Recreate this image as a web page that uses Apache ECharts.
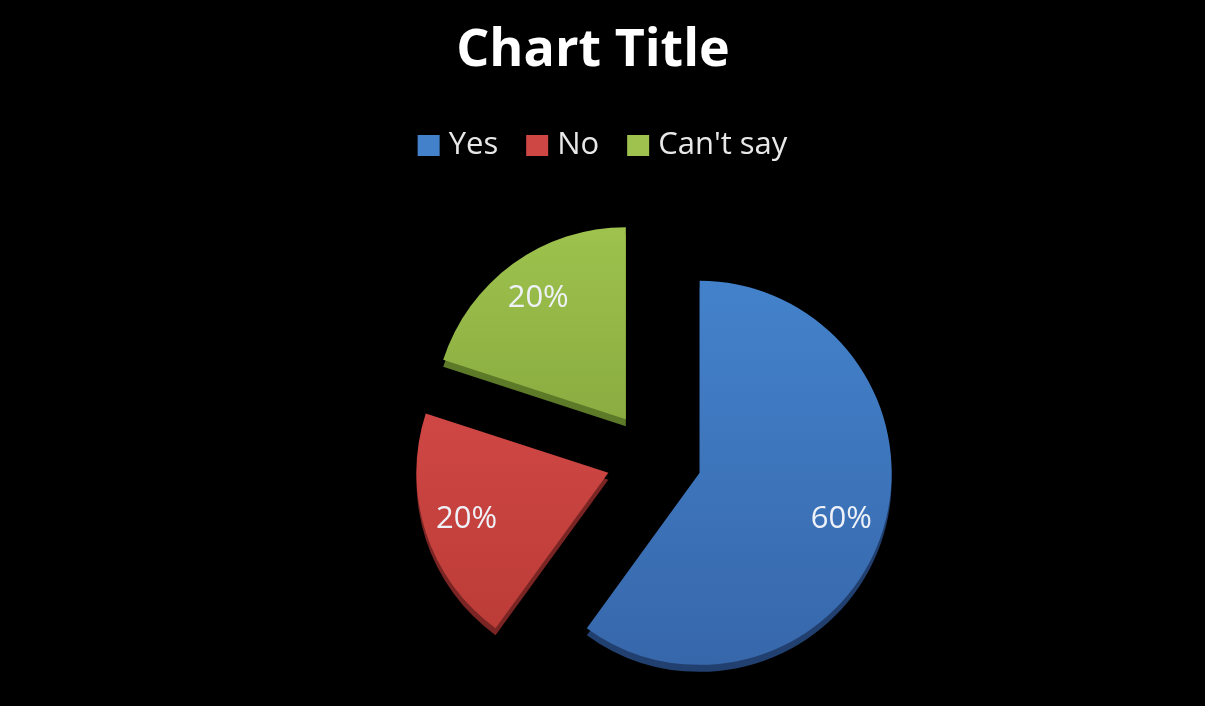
<!DOCTYPE html>
<html>
<head>
<meta charset="utf-8">
<script src="https://cdn.jsdelivr.net/npm/echarts@6/dist/echarts.min.js"></script>
<style>
html,body{margin:0;padding:0;background:#000;}
#chart{width:1205px;height:706px;}
</style>
</head>
<body>
<div id="chart"></div>
<script>
var titleText = 'Chart Title';
var categories = ['Yes', 'No', "Can't say"];
var values = [60, 20, 20];
var topColors = ['#4382CB', '#CF4744', '#9EC24D'];
var bottomColors = ['#3767AB', '#BC3C38', '#8AAC41'];
var depthColors = ['#22406F', '#7A2523', '#5C7A28'];

var chart = echarts.init(document.getElementById('chart'));
var center = [654, 458];
var R = 192;
var OFF = 48;

function grad(i) {
  return new echarts.graphic.LinearGradient(0, 0, 0, 1, [
    {offset: 0, color: topColors[i]},
    {offset: 1, color: bottomColors[i]}
  ]);
}

var mainData = categories.map(function (c, i) {
  return {name: c, value: values[i], selected: true,
    itemStyle: {color: grad(i)}, select: {itemStyle: {color: grad(i)}}};
});
var depthData = categories.map(function (c, i) {
  return {name: c, value: values[i], selected: true,
    itemStyle: {color: depthColors[i]}, select: {itemStyle: {color: depthColors[i]}}};
});
var labelData = categories.map(function (c, i) {
  return {name: c, value: values[i], selected: true};
});

var common = {
  type: 'pie',
  startAngle: 90,
  clockwise: true,
  selectedMode: 'multiple',
  selectedOffset: OFF,
  silent: true,
  animation: false,
  avoidLabelOverlap: false,
  labelLine: {show: false},
  emphasis: {disabled: true}
};

chart.setOption({
  backgroundColor: '#000',
  title: {
    text: titleText,
    left: 588,
    textAlign: 'center',
    top: 20,
    textStyle: {color: '#ffffff', fontSize: 52, fontWeight: 'bold', fontFamily: 'Open Sans'}
  },
  legend: {
    top: 125,
    left: 'center',
    icon: 'rect',
    itemWidth: 22,
    itemHeight: 21,
    itemGap: 28,
    data: categories.map(function (c, i) {
      return {name: c, itemStyle: {color: topColors[i]}};
    }),
    textStyle: {color: '#e8e8e8', fontSize: 31, fontFamily: 'Open Sans', padding: [0, 0, 0, 4]}
  },
  series: [
    Object.assign({}, common, {
      name: 'depth', center: [center[0], center[1] + 7], radius: [0, R],
      z: 1, label: {show: false}, data: depthData,
      select: {itemStyle: {borderWidth: 0}}
    }),
    Object.assign({}, common, {
      name: 'main', center: center, radius: [0, R],
      z: 2, label: {show: false}, data: mainData,
      select: {itemStyle: {borderWidth: 0}}
    }),
    Object.assign({}, common, {
      name: 'labels', center: center, radius: [100, R],
      z: 3,
      itemStyle: {color: 'rgba(0,0,0,0)'},
      select: {itemStyle: {color: 'rgba(0,0,0,0)', borderWidth: 0}},
      label: {show: true, position: 'inside', formatter: '{d}%',
        color: '#eef2f8', fontSize: 31, fontFamily: 'Open Sans'},
      data: labelData
    })
  ]
});
</script>
</body>
</html>
